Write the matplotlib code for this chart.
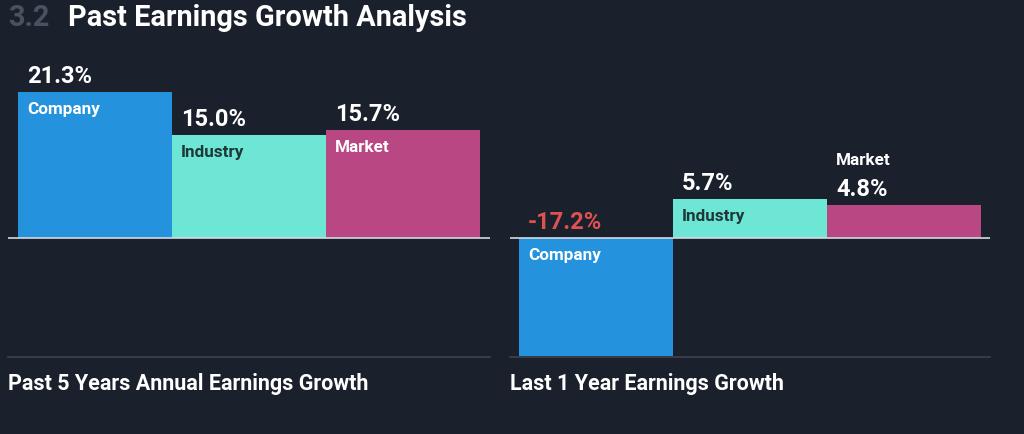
import matplotlib
matplotlib.use("Agg")
import matplotlib.pyplot as plt

categories = ["Company", "Industry", "Market"]
past5_values = [21.3, 15.0, 15.7]
last1_values = [-17.2, 5.7, 4.8]
panel_titles = ["Past 5 Years Annual Earnings Growth", "Last 1 Year Earnings Growth"]
section_number = "3.2"
chart_title = "Past Earnings Growth Analysis"

BG = "#1b212c"
bar_colors = ["#2492dd", "#6de6d5", "#b94783"]
label_colors = ["#ffffff", "#1e3837", "#ffffff"]
NEG = "#e0524f"

plt.rcParams["font.family"] = ["Roboto", "DejaVu Sans"]

W, H = 1024, 434
fig = plt.figure(figsize=(W / 100, H / 100), dpi=100, facecolor=BG)

px_per_unit = 6.85
base_px = 238
bottom_px = 357
top_px = 50
ymin = -(bottom_px - base_px) / px_per_unit
ymax = (base_px - top_px) / px_per_unit


def make_axes(x0, x1, margin):
    ax = fig.add_axes([x0 / W, 1 - bottom_px / H, (x1 - x0) / W, (bottom_px - top_px) / H])
    ax.set_facecolor(BG)
    ax.set_ylim(ymin, ymax)
    ax.set_xlim(-0.5 - margin / 154, 2.5 + margin / 154)
    ax.axis("off")
    return ax


def draw_panel(ax, values, title):
    xs = list(range(len(values)))
    ax.bar(xs, values, width=1.0, color=bar_colors, linewidth=0, zorder=2)
    ax.axhline(0, color="#d5d9de", lw=1.2, zorder=3)
    ax.axhline(ymin, color="#3b4350", lw=1.2, zorder=1, clip_on=False)
    for x, v, lc in zip(xs, values, label_colors):
        left = x - 0.5
        cat = categories[x]
        vcol = NEG if v < 0 else "#ffffff"
        top = max(v, 0)
        h_px = abs(v) * px_per_unit
        ax.annotate(f"{v:.1f}%", (left, top), xytext=(9, 9), textcoords="offset pixels",
                    ha="left", va="baseline", color=vcol, fontsize=17, fontweight="bold", zorder=4)
        if v < 0:
            ax.annotate(cat, (left, 0), xytext=(9, -10), textcoords="offset pixels",
                        ha="left", va="top", color=lc, fontsize=12.3, fontweight="bold", zorder=4)
        elif h_px >= 36:
            ax.annotate(cat, (left, v), xytext=(9, -10), textcoords="offset pixels",
                        ha="left", va="top", color=lc, fontsize=12.3, fontweight="bold", zorder=4)
        else:
            ax.annotate(cat, (left, v), xytext=(9, 40), textcoords="offset pixels",
                        ha="left", va="baseline", color="#ffffff", fontsize=12.3, fontweight="bold", zorder=4)
    ax.annotate(title, (0, 0), xycoords="axes fraction", xytext=(0, -27), textcoords="offset pixels",
                ha="left", va="center", color="#ffffff", fontsize=15.5, fontweight="bold",
                annotation_clip=False)


ax1 = make_axes(8, 490, 10)
draw_panel(ax1, past5_values, panel_titles[0])
ax2 = make_axes(510, 990, 9)
draw_panel(ax2, last1_values, panel_titles[1])

fig.text(8 / W, 1 - 18 / H, section_number, color="#4a5260", fontsize=20.8, fontweight="bold",
         ha="left", va="center")
fig.text(68 / W, 1 - 18 / H, chart_title, color="#ffffff", fontsize=20.8, fontweight="bold",
         ha="left", va="center")

fig.savefig("out.png", dpi=100, facecolor=BG)
